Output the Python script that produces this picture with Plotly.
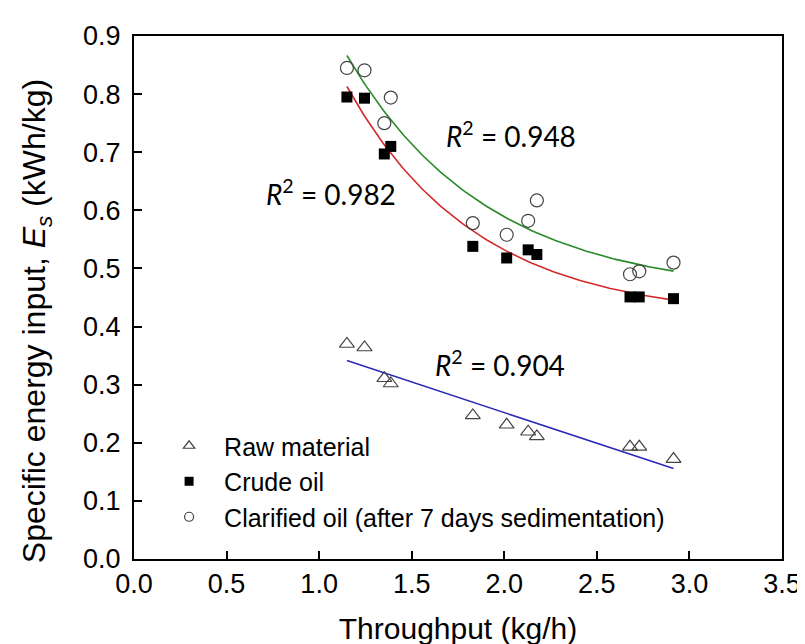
import numpy as np
import plotly.graph_objects as go

# ---- data ----
throughput = [1.15, 1.245, 1.352, 1.387, 1.83, 2.013, 2.129, 2.176, 2.679, 2.729, 2.914]
raw_material = [0.370, 0.364, 0.311, 0.302, 0.247, 0.231, 0.219, 0.211, 0.193, 0.193, 0.172]
crude_oil = [0.795, 0.793, 0.697, 0.710, 0.538, 0.518, 0.532, 0.524, 0.451, 0.451, 0.448]
clarified_oil = [0.845, 0.841, 0.750, 0.794, 0.578, 0.558, 0.582, 0.617, 0.490, 0.495, 0.510]

r2_labels = ["0.948", "0.982", "0.904"]
r2_x = [2.035, 1.065, 1.975]
r2_y = [0.730, 0.630, 0.336]

x_ticks = [0.0, 0.5, 1.0, 1.5, 2.0, 2.5, 3.0, 3.5]
y_ticks = [round(0.1 * i, 1) for i in range(10)]


def exp_decay_fit(x, y):
    x = np.asarray(x, float)
    y = np.asarray(y, float)
    best = None
    for c in np.arange(0.05, 6.0, 0.005):
        A = np.column_stack([np.ones_like(x), np.exp(-c * x)])
        coef, *_ = np.linalg.lstsq(A, y, rcond=None)
        sse = float(np.sum((A @ coef - y) ** 2))
        if best is None or sse < best[0]:
            best = (sse, coef[0], coef[1], c)
    _, a, b, c = best
    xs = np.linspace(x.min(), x.max(), 120)
    return xs, a + b * np.exp(-c * xs)


def lin_fit(x, y):
    k, m = np.polyfit(x, y, 1)
    xs = np.linspace(min(x), max(x), 2)
    return xs, k * xs + m


fig = go.Figure()

gx, gy = exp_decay_fit(throughput, clarified_oil)
rx, ry = exp_decay_fit(throughput, crude_oil)
bx, by = lin_fit(throughput, raw_material)

fig.add_trace(go.Scatter(x=gx, y=gy, mode="lines", line=dict(color="#2a8a2a", width=1.6),
                         showlegend=False, hoverinfo="skip"))
fig.add_trace(go.Scatter(x=rx, y=ry, mode="lines", line=dict(color="#d42a2a", width=1.6),
                         showlegend=False, hoverinfo="skip"))
fig.add_trace(go.Scatter(x=bx, y=by, mode="lines", line=dict(color="#2a2ab8", width=1.6),
                         showlegend=False, hoverinfo="skip"))

mk_line = dict(color="#444444", width=1.2)
fig.add_trace(go.Scatter(x=throughput, y=raw_material, mode="markers", showlegend=False,
                         marker=dict(symbol="triangle-up-open", size=13, color="#444444", line=mk_line)))
fig.add_trace(go.Scatter(x=throughput, y=crude_oil, mode="markers", showlegend=False,
                         marker=dict(symbol="square", size=11, color="black", line=dict(width=0))))
fig.add_trace(go.Scatter(x=throughput, y=clarified_oil, mode="markers", showlegend=False,
                         marker=dict(symbol="circle-open", size=13, color="#444444", line=mk_line)))

# legend entries (smaller symbols, as in the reference)
fig.add_trace(go.Scatter(x=[None], y=[None], mode="markers", name="Raw material", legendgroup="a",
                         marker=dict(symbol="triangle-up-open", size=10, color="#444444", line=mk_line)))
fig.add_trace(go.Scatter(x=[None], y=[None], mode="markers", name="Crude oil", legendgroup="b",
                         marker=dict(symbol="square", size=9, color="black")))
fig.add_trace(go.Scatter(x=[None], y=[None], mode="markers",
                         name="Clarified oil (after 7 days sedimentation)", legendgroup="c",
                         marker=dict(symbol="circle-open", size=9, color="#444444", line=mk_line)))

for lab, ax_, ay_ in zip(r2_labels, r2_x, r2_y):
    fig.add_annotation(x=ax_, y=ay_, xref="x", yref="y", showarrow=False,
                       text="<i>R</i><sup>2</sup> = " + lab,
                       font=dict(family="Lato, Open Sans, sans-serif", size=28, color="black"))

# y-axis title (drawn as a rotated annotation so it can sit slightly below centre, as in the reference)
fig.add_annotation(x=-0.151, y=0.455, xref="paper", yref="paper", showarrow=False,
                   textangle=-90, xanchor="center", yanchor="middle",
                   text="Specific energy input, <i>E<sub>s</sub></i> (kWh/kg)",
                   font=dict(family="Liberation Sans, Arial, sans-serif", size=32, color="black"))

tick_font = dict(family="Liberation Sans, Arial, sans-serif", size=27, color="black")
xtitle_font = dict(family="Liberation Sans, Arial, sans-serif", size=30, color="black")

fig.update_layout(
    width=805, height=644,
    margin=dict(l=126, r=25, t=28, b=87),
    paper_bgcolor="white", plot_bgcolor="white",
    font=dict(family="Liberation Sans, Arial, sans-serif", color="black"),
    legend=dict(x=0.031, y=0.260, xanchor="left", yanchor="top",
                font=dict(family="Liberation Sans, Arial, sans-serif", size=25, color="black"),
                bgcolor="rgba(0,0,0,0)", traceorder="grouped", tracegroupgap=0,
                itemwidth=60, itemclick=False),
    xaxis=dict(range=[0, 3.5], tickvals=x_ticks, ticktext=[f"{v:.1f}" for v in x_ticks],
               ticks="inside", ticklen=8, tickwidth=1.5, tickcolor="black",
               showline=True, linecolor="black", linewidth=2, mirror=True,
               showgrid=False, zeroline=False, tickfont=tick_font,
               title=dict(text="Throughput (kg/h)", font=xtitle_font, standoff=20)),
    yaxis=dict(range=[0, 0.9], tickvals=y_ticks, ticktext=[f"{v:.1f}" for v in y_ticks],
               ticks="inside", ticklen=8, tickwidth=1.5, tickcolor="black",
               showline=True, linecolor="black", linewidth=2, mirror=True,
               showgrid=False, zeroline=False, tickfont=tick_font, ticklabelstandoff=6),
)

fig.write_html("out.html")
